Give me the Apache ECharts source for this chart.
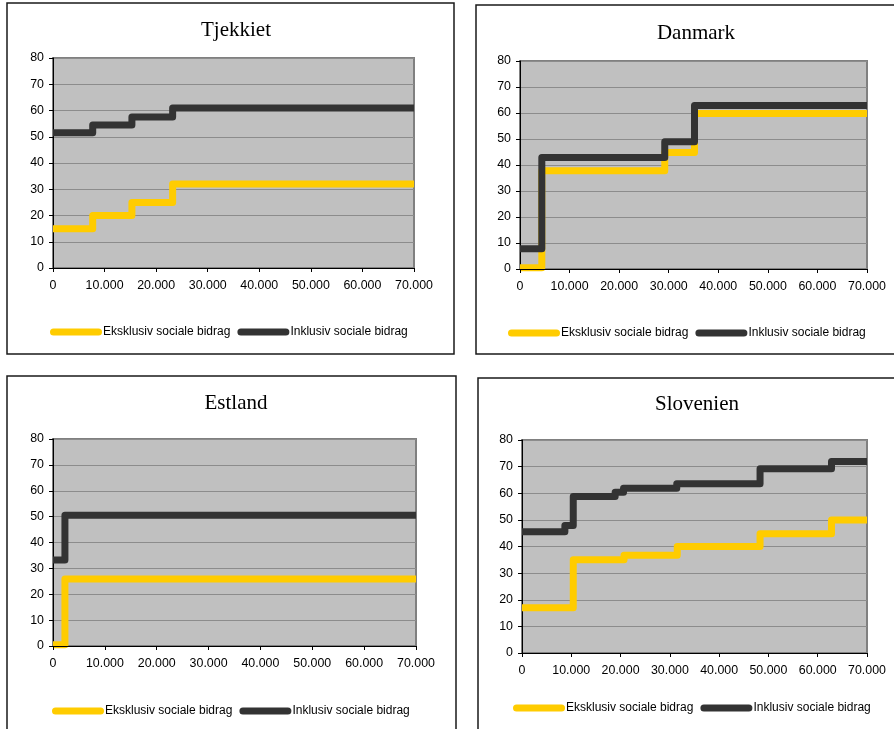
<!DOCTYPE html>
<html>
<head>
<meta charset="utf-8">
<script src="https://cdn.jsdelivr.net/npm/echarts@6/dist/echarts.min.js"></script>
<style>
  html, body { margin: 0; padding: 0; background: #fff; }
  #chart { width: 894px; height: 729px; }
</style>
</head>
<body>
<div id="chart"></div>
<script>
// Marginal tax rate (%) by income, step functions per country.
// Each series: income breakpoints and the rate that applies from that point on.
const seriesNames = ['Eksklusiv sociale bidrag', 'Inklusiv sociale bidrag'];
const countries = ['Tjekkiet', 'Danmark', 'Estland', 'Slovenien'];

const tjekkietEksX = [0, 7700, 15300, 23200, 70000];
const tjekkietEksY = [15, 20, 25, 32, 32];
const tjekkietInkX = [0, 7700, 15300, 23200, 70000];
const tjekkietInkY = [51.5, 54.5, 57.5, 61, 61];

const danmarkEksX = [0, 4400, 29200, 35200, 70000];
const danmarkEksY = [0.5, 37.8, 44.8, 59.8, 59.8];
const danmarkInkX = [0, 4400, 29200, 35200, 70000];
const danmarkInkY = [7.8, 42.9, 48.9, 62.9, 62.9];

const estlandEksX = [0, 2300, 70000];
const estlandEksY = [0.5, 25.9, 25.9];
const estlandInkX = [0, 2300, 70000];
const estlandInkY = [33.2, 50.5, 50.5];

const sloveniaEksX = [0, 10400, 20700, 31500, 48300, 62800, 70000];
const sloveniaEksY = [17, 35, 36.7, 40, 44.8, 50, 50];
const sloveniaInkX = [0, 8700, 10400, 18900, 20600, 31400, 48300, 62800, 70000];
const sloveniaInkY = [45.5, 47.9, 58.8, 60.4, 61.9, 63.6, 69.2, 71.9, 71.9];

const xTicks = [0, 10000, 20000, 30000, 40000, 50000, 60000, 70000];
const yTicks = [0, 10, 20, 30, 40, 50, 60, 70, 80];

const panelData = [
  [[tjekkietEksX, tjekkietEksY], [tjekkietInkX, tjekkietInkY]],
  [[danmarkEksX, danmarkEksY], [danmarkInkX, danmarkInkY]],
  [[estlandEksX, estlandEksY], [estlandInkX, estlandInkY]],
  [[sloveniaEksX, sloveniaEksY], [sloveniaInkX, sloveniaInkY]]
];

const colors = ['#FFCC00', '#333333'];
const sansFont = '"Liberation Sans", Arial, sans-serif';
const serifFont = '"Liberation Serif", "Times New Roman", serif';
const labelSize = 12.4;
const legendSize = 12;

// Layout of the four panels
const grids = [
  { left: 53, top: 58, width: 361, height: 210 },
  { left: 520, top: 61, width: 347, height: 208 },
  { left: 53, top: 439, width: 363, height: 207 },
  { left: 522, top: 440, width: 345, height: 213 }
];
const titlePos = [[231, 15], [691, 18], [231, 388], [692, 389]];
const legendPos = [[45, 321], [503, 322], [47, 700], [508, 697]];
const boxes = [
  { x: 7, y: 3, width: 447, height: 351 },
  { x: 476, y: 5, width: 440, height: 349 },
  { x: 7, y: 376, width: 449, height: 400 },
  { x: 478, y: 378, width: 440, height: 400 }
];

// Pill-shaped legend swatch
const pillIcon = 'path://M3.5,0 L48.5,0 A3.5,3.5 0 0 1 48.5,7 L3.5,7 A3.5,3.5 0 0 1 3.5,0 Z';

function thousands(v) {
  return String(v).replace(/\B(?=(\d{3})+(?!\d))/g, '.');
}

const option = {
  animation: false,
  backgroundColor: '#ffffff',
  graphic: boxes.map(b => ({
    type: 'rect',
    shape: b,
    style: { fill: 'none', stroke: '#1a1a1a', lineWidth: 1.5 },
    z: -1
  })),
  title: countries.map((c, i) => ({
    text: c,
    left: titlePos[i][0],
    top: titlePos[i][1],
    textAlign: 'center',
    textStyle: { fontFamily: serifFont, fontSize: 21, fontWeight: 'normal', color: '#000' }
  })),
  legend: countries.map((c, i) => ({
    left: legendPos[i][0],
    top: legendPos[i][1],
    orient: 'horizontal',
    itemWidth: 52,
    itemHeight: 7,
    itemGap: 7,
    icon: pillIcon,
    data: seriesNames,
    textStyle: { fontFamily: sansFont, fontSize: legendSize, color: '#000', padding: [0, 0, 0, -4] }
  })),
  grid: grids.map(g => Object.assign({
    show: true,
    backgroundColor: '#C0C0C0',
    borderColor: '#808080',
    borderWidth: 2,
    containLabel: false
  }, g)),
  xAxis: grids.map((g, i) => ({
    type: 'value',
    gridIndex: i,
    min: xTicks[0],
    max: xTicks[xTicks.length - 1],
    interval: 10000,
    z: 5,
    axisLine: { show: true, onZero: false, lineStyle: { color: '#000', width: 1 } },
    axisTick: { show: true, length: 4, lineStyle: { color: '#000' } },
    axisLabel: { formatter: thousands, fontFamily: sansFont, fontSize: labelSize, color: '#000', margin: 12 },
    splitLine: { show: false }
  })),
  yAxis: grids.map((g, i) => ({
    type: 'value',
    gridIndex: i,
    min: yTicks[0],
    max: yTicks[yTicks.length - 1],
    interval: 10,
    axisLine: { show: true, onZero: false, lineStyle: { color: '#000', width: 1 } },
    axisTick: { show: true, length: 4, lineStyle: { color: '#000' } },
    axisLabel: { fontFamily: sansFont, fontSize: labelSize, color: '#000', margin: 9 },
    splitLine: { show: true, lineStyle: { color: '#8c8c8c', width: 1 } }
  })),
  series: []
};

panelData.forEach((pair, i) => {
  pair.forEach((xy, k) => {
    option.series.push({
      name: seriesNames[k],
      type: 'line',
      xAxisIndex: i,
      yAxisIndex: i,
      step: 'end',
      showSymbol: false,
      symbol: 'none',
      color: colors[k],
      itemStyle: { color: colors[k] },
      lineStyle: { color: colors[k], width: 7, join: 'round', cap: 'butt' },
      data: xy[0].map((x, j) => [x, xy[1][j]])
    });
  });
});

const chart = echarts.init(document.getElementById('chart'), null, { renderer: 'canvas' });
chart.setOption(option);
</script>
</body>
</html>
